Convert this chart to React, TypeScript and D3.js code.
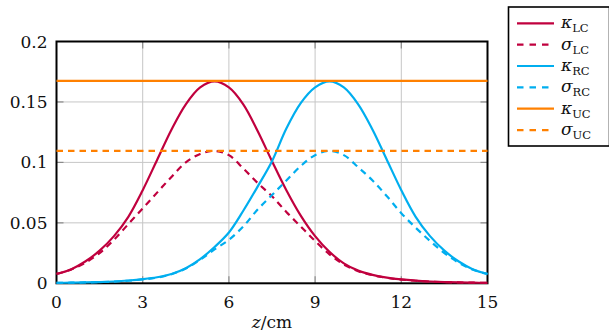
import React from "react";
import * as d3 from "d3";

const zValues = [0,0.5,1,1.5,2,2.5,3,3.5,4,4.5,5,5.5,6,6.5,7,7.5,8,8.5,9,9.5,10,10.5,11,11.5,12,12.5,13,13.5,14,14.5,15];

const kappaLC = [0.0078,0.0115,0.018,0.027,0.039,0.055,0.077,0.102,0.127,0.148,0.162,0.167,0.162,0.148,0.126,0.101,0.077,0.056,0.039,0.026,0.0165,0.0105,0.007,0.0047,0.0032,0.0022,0.0015,0.001,0.0007,0.0005,0.0004];
const sigmaLC = [0.0078,0.0113,0.017,0.025,0.036,0.049,0.062,0.075,0.088,0.1,0.107,0.1095,0.106,0.095,0.083,0.072,0.059,0.047,0.035,0.024,0.0155,0.01,0.0067,0.0045,0.0031,0.0021,0.0014,0.001,0.0007,0.0005,0.0004];
const kappaRC = [0.0004,0.0005,0.0007,0.001,0.0015,0.0023,0.0034,0.005,0.0077,0.0125,0.02,0.03,0.042,0.06,0.08,0.101,0.128,0.149,0.162,0.167,0.162,0.148,0.127,0.102,0.077,0.055,0.039,0.027,0.018,0.0115,0.0078];
const sigmaRC = [0.0004,0.0005,0.0007,0.001,0.0014,0.0021,0.0032,0.0047,0.0075,0.0122,0.0195,0.028,0.036,0.047,0.061,0.073,0.085,0.097,0.106,0.1095,0.106,0.096,0.085,0.072,0.058,0.046,0.035,0.025,0.017,0.0113,0.0076];
const kappaUC = [0.1675,0.1675];
const sigmaUC = [0.1095,0.1095];
const ucZ = [0, 15];

const xTicks = [0,3,6,9,12,15];
const yTicks = [0,0.05,0.1,0.15,0.2];
const yTickLabels = ["0","0.05","0.1","0.15","0.2"];

const CRIMSON = "#C0003E";
const CYAN = "#00AEEF";
const ORANGE = "#FF8000";

const seriesList = [
  { sym: "κ", sub: "LC", z: zValues, v: kappaLC, color: CRIMSON, dash: false },
  { sym: "σ", sub: "LC", z: zValues, v: sigmaLC, color: CRIMSON, dash: true },
  { sym: "κ", sub: "RC", z: zValues, v: kappaRC, color: CYAN, dash: false },
  { sym: "σ", sub: "RC", z: zValues, v: sigmaRC, color: CYAN, dash: true },
  { sym: "κ", sub: "UC", z: ucZ, v: kappaUC, color: ORANGE, dash: false },
  { sym: "σ", sub: "UC", z: ucZ, v: sigmaUC, color: ORANGE, dash: true },
];

const FONT = "'DejaVu Serif', serif";

export default function App() {
  const W = 609, H = 332;
  const left = 56.5, right = 487.5, top = 41.5, bottom = 283.3;
  const x = d3.scaleLinear().domain([0, 15]).range([left, right]);
  const y = d3.scaleLinear().domain([0, 0.2]).range([bottom, top]);
  const line = d3.line<[number, number]>()
    .x(d => x(d[0]))
    .y(d => y(d[1]))
    .curve(d3.curveCatmullRom.alpha(0.5));

  const tickLen = 7;
  const legX = 508.5, legY = 7, legW = 101, legH = 139;
  const rowY0 = 23.3, rowDy = 21.35;
  const txt = { fontFamily: FONT };

  return (
    <svg width={W} height={H} style={{ position: "absolute", left: 0, top: 0, fontFamily: FONT }}>
      <rect x={0} y={0} width={W} height={H} fill="#fff" />
      {xTicks.slice(1, -1).map(t => (
        <line key={"gx" + t} x1={x(t)} x2={x(t)} y1={top} y2={bottom} stroke="#c6c6c6" strokeWidth={1} />
      ))}
      {yTicks.slice(1, -1).map(t => (
        <line key={"gy" + t} x1={left} x2={right} y1={y(t)} y2={y(t)} stroke="#c6c6c6" strokeWidth={1} />
      ))}
      {xTicks.slice(1, -1).map(t => (
        <g key={"tx" + t} stroke="#8a8a8a" strokeWidth={1.2}>
          <line x1={x(t)} x2={x(t)} y1={bottom} y2={bottom - tickLen} />
          <line x1={x(t)} x2={x(t)} y1={top} y2={top + tickLen} />
        </g>
      ))}
      {yTicks.slice(1, -1).map(t => (
        <g key={"ty" + t} stroke="#8a8a8a" strokeWidth={1.2}>
          <line x1={left} x2={left + tickLen} y1={y(t)} y2={y(t)} />
          <line x1={right} x2={right - tickLen} y1={y(t)} y2={y(t)} />
        </g>
      ))}
      <rect x={left} y={top} width={right - left} height={bottom - top} fill="none" stroke="#000" strokeWidth={2} />
      {seriesList.map((s, i) => (
        <path key={"s" + i}
          d={line(s.z.map((zz, j) => [zz, s.v[j]] as [number, number])) || ""}
          fill="none" stroke={s.color} strokeWidth={2.2}
          strokeDasharray={s.dash ? "6.5,5" : undefined} />
      ))}
      {xTicks.map(t => (
        <text key={"xl" + t} x={x(t)} y={307.5} textAnchor="middle" fontSize={17} fill="#111" style={txt}>{t}</text>
      ))}
      {yTicks.map((t, i) => (
        <text key={"yl" + t} x={47.5} y={y(t) + 6} textAnchor="end" fontSize={17} fill="#111" style={txt}>{yTickLabels[i]}</text>
      ))}
      <text x={272} y={328} textAnchor="middle" fontSize={17} fill="#111" style={txt}>
        <tspan fontStyle="italic">z</tspan>
        <tspan>/cm</tspan>
      </text>
      <rect x={legX} y={legY} width={legW} height={legH} fill="#fff" stroke="#000" strokeWidth={1.6} />
      {seriesList.map((s, i) => {
        const ry = rowY0 + i * rowDy;
        return (
          <g key={"lg" + i}>
            <line x1={517} x2={554} y1={ry} y2={ry} stroke={s.color} strokeWidth={2.2}
              strokeDasharray={s.dash ? "6.5,6" : undefined} />
            <text x={561} y={ry + 5} fontSize={17} fill="#111" style={txt}>
              <tspan fontStyle="italic">{s.sym}</tspan>
              <tspan fontSize={11.5} dy={4}>{s.sub}</tspan>
            </text>
          </g>
        );
      })}
    </svg>
  );
}
